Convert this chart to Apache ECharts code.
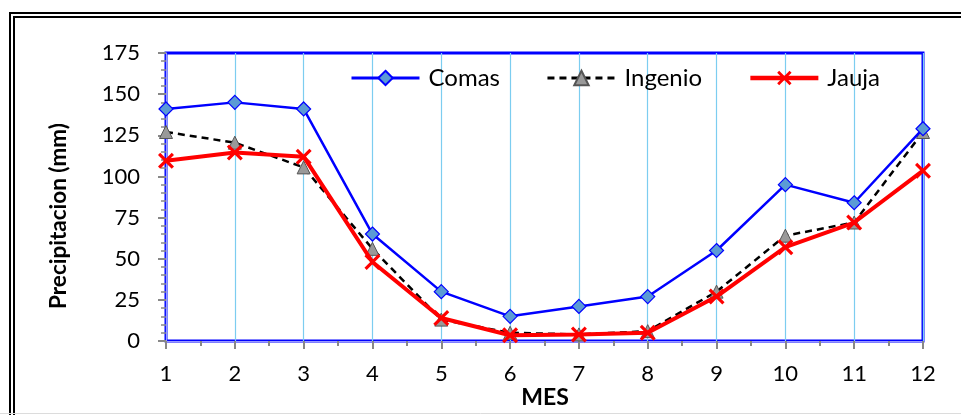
<!DOCTYPE html>
<html>
<head>
<meta charset="utf-8">
<script src="https://cdn.jsdelivr.net/npm/echarts@6/dist/echarts.min.js"></script>
<style>
  html, body { margin: 0; padding: 0; background: #fff; }
  #chart { width: 961px; height: 415px; }
</style>
</head>
<body>
<div id="chart"></div>
<script>
// Monthly precipitation (mm) at three stations
const months = [1, 2, 3, 4, 5, 6, 7, 8, 9, 10, 11, 12];
const comas   = [141, 145, 141, 65, 30, 15, 21, 27, 55, 95, 84, 129];
const ingenio = [127, 120.5, 105.5, 56, 13, 5, 4, 6, 30, 64, 72, 127];
const jauja   = [109.5, 114.5, 112, 48, 14, 3.5, 4, 5, 27, 57, 72, 103.5];
const seriesNames = ['Comas', 'Ingenio', 'Jauja'];
const yTicks = [0, 25, 50, 75, 100, 125, 150, 175];

const FONT = 'Lato';
const crossPath = 'path://M0,1.4 L1.4,0 L5,3.6 L8.6,0 L10,1.4 L6.4,5 L10,8.6 L8.6,10 L5,6.4 L1.4,10 L0,8.6 L3.6,5 Z';

const pairs = arr => months.map((m, i) => [m, arr[i]]);

const comasLine = { color: '#0000ff', width: 2.5 };
const ingenioLine = { color: '#000000', width: 2.5, type: [7, 5] };
const jaujaLine = { color: '#ff0000', width: 4 };

const chart = echarts.init(document.getElementById('chart'), null, { renderer: 'canvas' });
chart.setOption({
  animation: false,
  backgroundColor: '#ffffff',
  textStyle: { fontFamily: FONT },
  grid: {
    left: 166, right: 38, top: 53, bottom: 74,
    show: true, borderColor: '#0000ff', borderWidth: 3, backgroundColor: '#ffffff'
  },
  legend: {
    left: 350, top: 66, padding: 0,
    itemWidth: 68, itemHeight: 18, itemGap: 46,
    textStyle: { fontFamily: FONT, fontSize: 24, color: '#000', padding: [0, 0, 0, 4] },
    data: [
      { name: seriesNames[0], lineStyle: { width: 3 } },
      { name: seriesNames[1], lineStyle: { width: 3 } },
      { name: seriesNames[2], lineStyle: { width: 4.5 } }
    ]
  },
  xAxis: {
    type: 'value', min: 1, max: 12, interval: 1,
    axisLine: { show: true, onZero: false, lineStyle: { color: '#9a9aff', width: 1 } },
    axisTick: { show: true, length: 8, lineStyle: { color: '#888', width: 2 } },
    minorTick: { show: true, splitNumber: 2, length: 5, lineStyle: { color: '#888', width: 2 } },
    splitLine: { show: true, lineStyle: { color: '#7ccdf0', width: 1.2 } },
    axisLabel: { fontFamily: FONT, fontSize: 22, color: '#000', margin: 22 }
  },
  yAxis: {
    type: 'value', min: yTicks[0], max: yTicks[yTicks.length - 1], interval: 25,
    axisLine: { show: true, onZero: false, lineStyle: { color: '#9a9aff', width: 1 } },
    axisTick: { show: true, length: 8, lineStyle: { color: '#888', width: 2 } },
    minorTick: { show: true, splitNumber: 5, length: 5, lineStyle: { color: '#888', width: 1.5 } },
    splitLine: { show: false },
    axisLabel: { fontFamily: FONT, fontSize: 22, color: '#000', margin: 26 }
  },
  graphic: [
    { type: 'rect', shape: { x: 10, y: 13, width: 1000, height: 500 }, style: { fill: 'none', stroke: '#000', lineWidth: 2 }, silent: true },
    { type: 'rect', shape: { x: 14, y: 17, width: 1000, height: 500 }, style: { fill: 'none', stroke: '#000', lineWidth: 2 }, silent: true },
    { type: 'line', shape: { x1: 0, y1: 413.5, x2: 961, y2: 413.5 }, style: { stroke: '#dcdcdc', lineWidth: 1 }, silent: true },
    {
      type: 'text', x: 59, y: 216, rotation: Math.PI / 2,
      style: { text: 'Precipitacion (mm)', font: 'bold 22.5px ' + FONT, fill: '#000', textAlign: 'center', textVerticalAlign: 'middle' }
    },
    {
      type: 'text', x: 545, y: 398,
      style: { text: 'MES', font: 'bold 23px ' + FONT, fill: '#000', textAlign: 'center', textVerticalAlign: 'middle' }
    }
  ],
  series: [
    {
      name: seriesNames[0], type: 'line', data: pairs(comas),
      symbol: 'diamond', symbolSize: 14,
      lineStyle: comasLine,
      itemStyle: { color: '#5b9bd5', borderColor: '#0000ff', borderWidth: 1.2 },
      z: 3
    },
    {
      name: seriesNames[1], type: 'line', data: pairs(ingenio),
      symbol: 'triangle', symbolSize: 13,
      lineStyle: ingenioLine,
      itemStyle: { color: '#999999', borderColor: '#555555', borderWidth: 1 },
      z: 2
    },
    {
      name: seriesNames[2], type: 'line', data: pairs(jauja),
      symbol: crossPath, symbolSize: 16,
      lineStyle: jaujaLine,
      itemStyle: { color: '#ff0000' },
      z: 4
    }
  ]
});
</script>
</body>
</html>
